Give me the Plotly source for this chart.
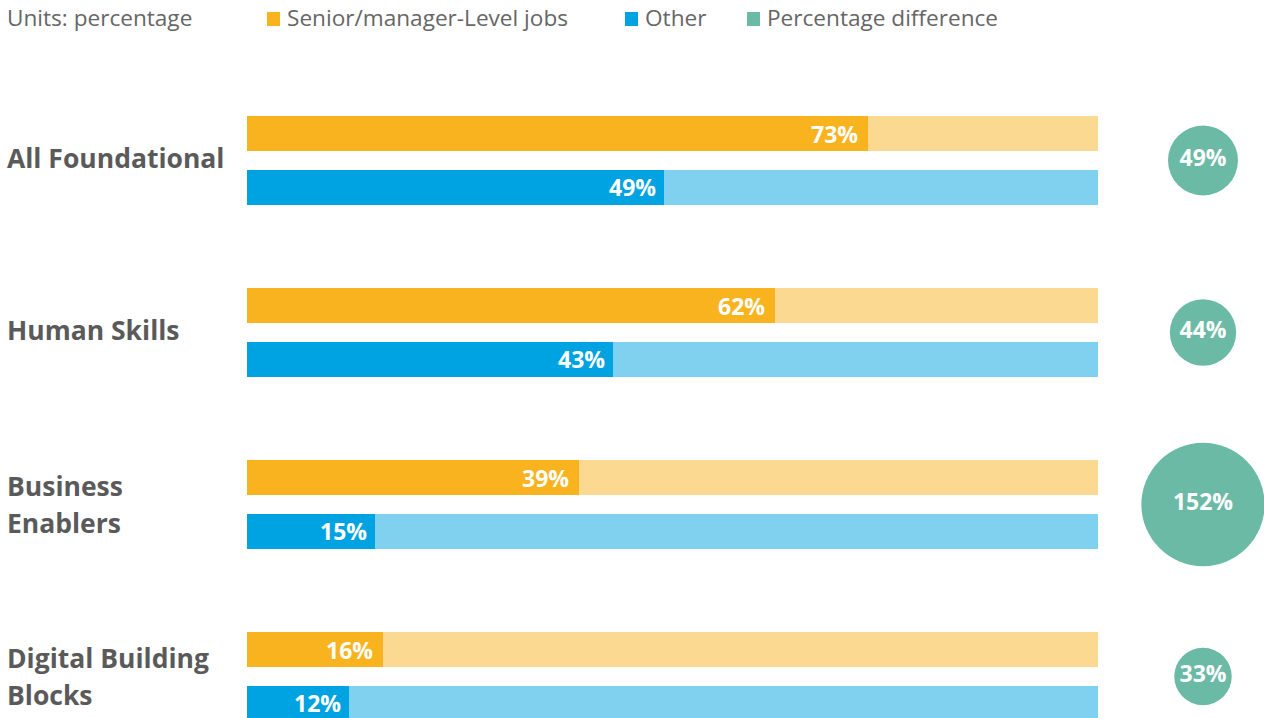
import numpy as np
import plotly.graph_objects as go

# Skill groups and shares of job postings (%)
categories = ["All Foundational", "Human Skills", "Business<br>Enablers", "Digital Building<br>Blocks"]
senior = [73, 62, 39, 16]
other = [49, 43, 15, 12]
pct_diff = [49, 44, 152, 33]

ORANGE = "#F9B31E"
ORANGE_LIGHT = "#FCD991"
BLUE = "#00A3E1"
BLUE_LIGHT = "#80D1EF"
GREEN = "#6BBAA5"
GREY = "#5A5A5A"
FONT = "Open Sans"

W, H = 1264, 718
x0_px, x100_px = 247, 1098
ppu = (x100_px - x0_px) / 100.0
x_range = [-x0_px / ppu, (W - x0_px) / ppu]

group_px = 172.0
first_center_px = 160.5
y_range = [(H - first_center_px) / group_px, -first_center_px / group_px]
offset = 27 / group_px
bar_w = 35 / group_px

idx = np.arange(len(categories))
y_sen = idx - offset
y_oth = idx + offset

fig = go.Figure()

# full-length tracks
fig.add_trace(go.Bar(x=[100] * len(idx), y=y_sen, orientation="h", width=bar_w,
                     marker=dict(color=ORANGE_LIGHT, line_width=0), showlegend=False, hoverinfo="skip"))
fig.add_trace(go.Bar(x=[100] * len(idx), y=y_oth, orientation="h", width=bar_w,
                     marker=dict(color=BLUE_LIGHT, line_width=0), showlegend=False, hoverinfo="skip"))
# value bars
fig.add_trace(go.Bar(x=senior, y=y_sen, orientation="h", width=bar_w,
                     marker=dict(color=ORANGE, line_width=0), name="Senior/manager-Level jobs", showlegend=False))
fig.add_trace(go.Bar(x=other, y=y_oth, orientation="h", width=bar_w,
                     marker=dict(color=BLUE, line_width=0), name="Other", showlegend=False))

# percentage-difference bubbles (area proportional to value)
circle_x = (1203 - x0_px) / ppu
fig.add_trace(go.Scatter(
    x=[circle_x] * len(idx), y=idx, mode="markers+text",
    marker=dict(size=[10 * np.sqrt(v) for v in pct_diff], color=GREEN, line_width=0, opacity=1),
    text=[f"{v}%" for v in pct_diff], textposition="middle center",
    textfont=dict(family=FONT, size=23, color="white", weight="bold"),
    showlegend=False, cliponaxis=False, hoverinfo="skip"))

annotations = []
for yi, v in zip(y_sen, senior):
    annotations.append(dict(x=v, y=yi, xref="x", yref="y", text=f"{v}%", showarrow=False,
                            xanchor="right", xshift=-8,
                            font=dict(family=FONT, size=23, color="white", weight="bold")))
for yi, v in zip(y_oth, other):
    annotations.append(dict(x=v, y=yi, xref="x", yref="y", text=f"{v}%", showarrow=False,
                            xanchor="right", xshift=-6, yshift=1,
                            font=dict(family=FONT, size=23, color="white", weight="bold")))

# category labels, each line placed separately for wider line spacing
for i, c in enumerate(categories):
    lines = c.split("<br>")
    n = len(lines)
    for k, line in enumerate(lines):
        shift = 3 if n == 1 else (18.5 - 37 * k)
        annotations.append(dict(x=5 / W, y=i, xref="paper", yref="y", text=line, showarrow=False,
                                xanchor="left", yshift=shift,
                                font=dict(family=FONT, size=26.5, color=GREY, weight="bold")))

# header / key
legend_items = [("Units: percentage", None, 7), ("Senior/manager-Level jobs", ORANGE, 267),
                ("Other", BLUE, 625), ("Percentage difference", GREEN, 747)]
shapes = []
for label, col, px in legend_items:
    tx = px - 2 if col is None else px + 18
    annotations.append(dict(x=tx / W, y=1 - 18 / H, xref="paper", yref="paper", text=label,
                            showarrow=False, xanchor="left", yanchor="middle",
                            font=dict(family=FONT, size=22.6, color="#666666")))
    if col is not None:
        shapes.append(dict(type="rect", xref="paper", yref="paper",
                           x0=px / W, x1=(px + 13) / W, y0=1 - 26 / H, y1=1 - 12 / H,
                           fillcolor=col, line_width=0))

fig.update_layout(
    width=W, height=H, margin=dict(l=0, r=0, t=0, b=0),
    paper_bgcolor="white", plot_bgcolor="white",
    barmode="overlay", bargap=0,
    xaxis=dict(range=x_range, visible=False, fixedrange=True),
    yaxis=dict(range=y_range, visible=False, fixedrange=True),
    annotations=annotations, shapes=shapes, showlegend=False,
)

fig.write_html("out.html")
